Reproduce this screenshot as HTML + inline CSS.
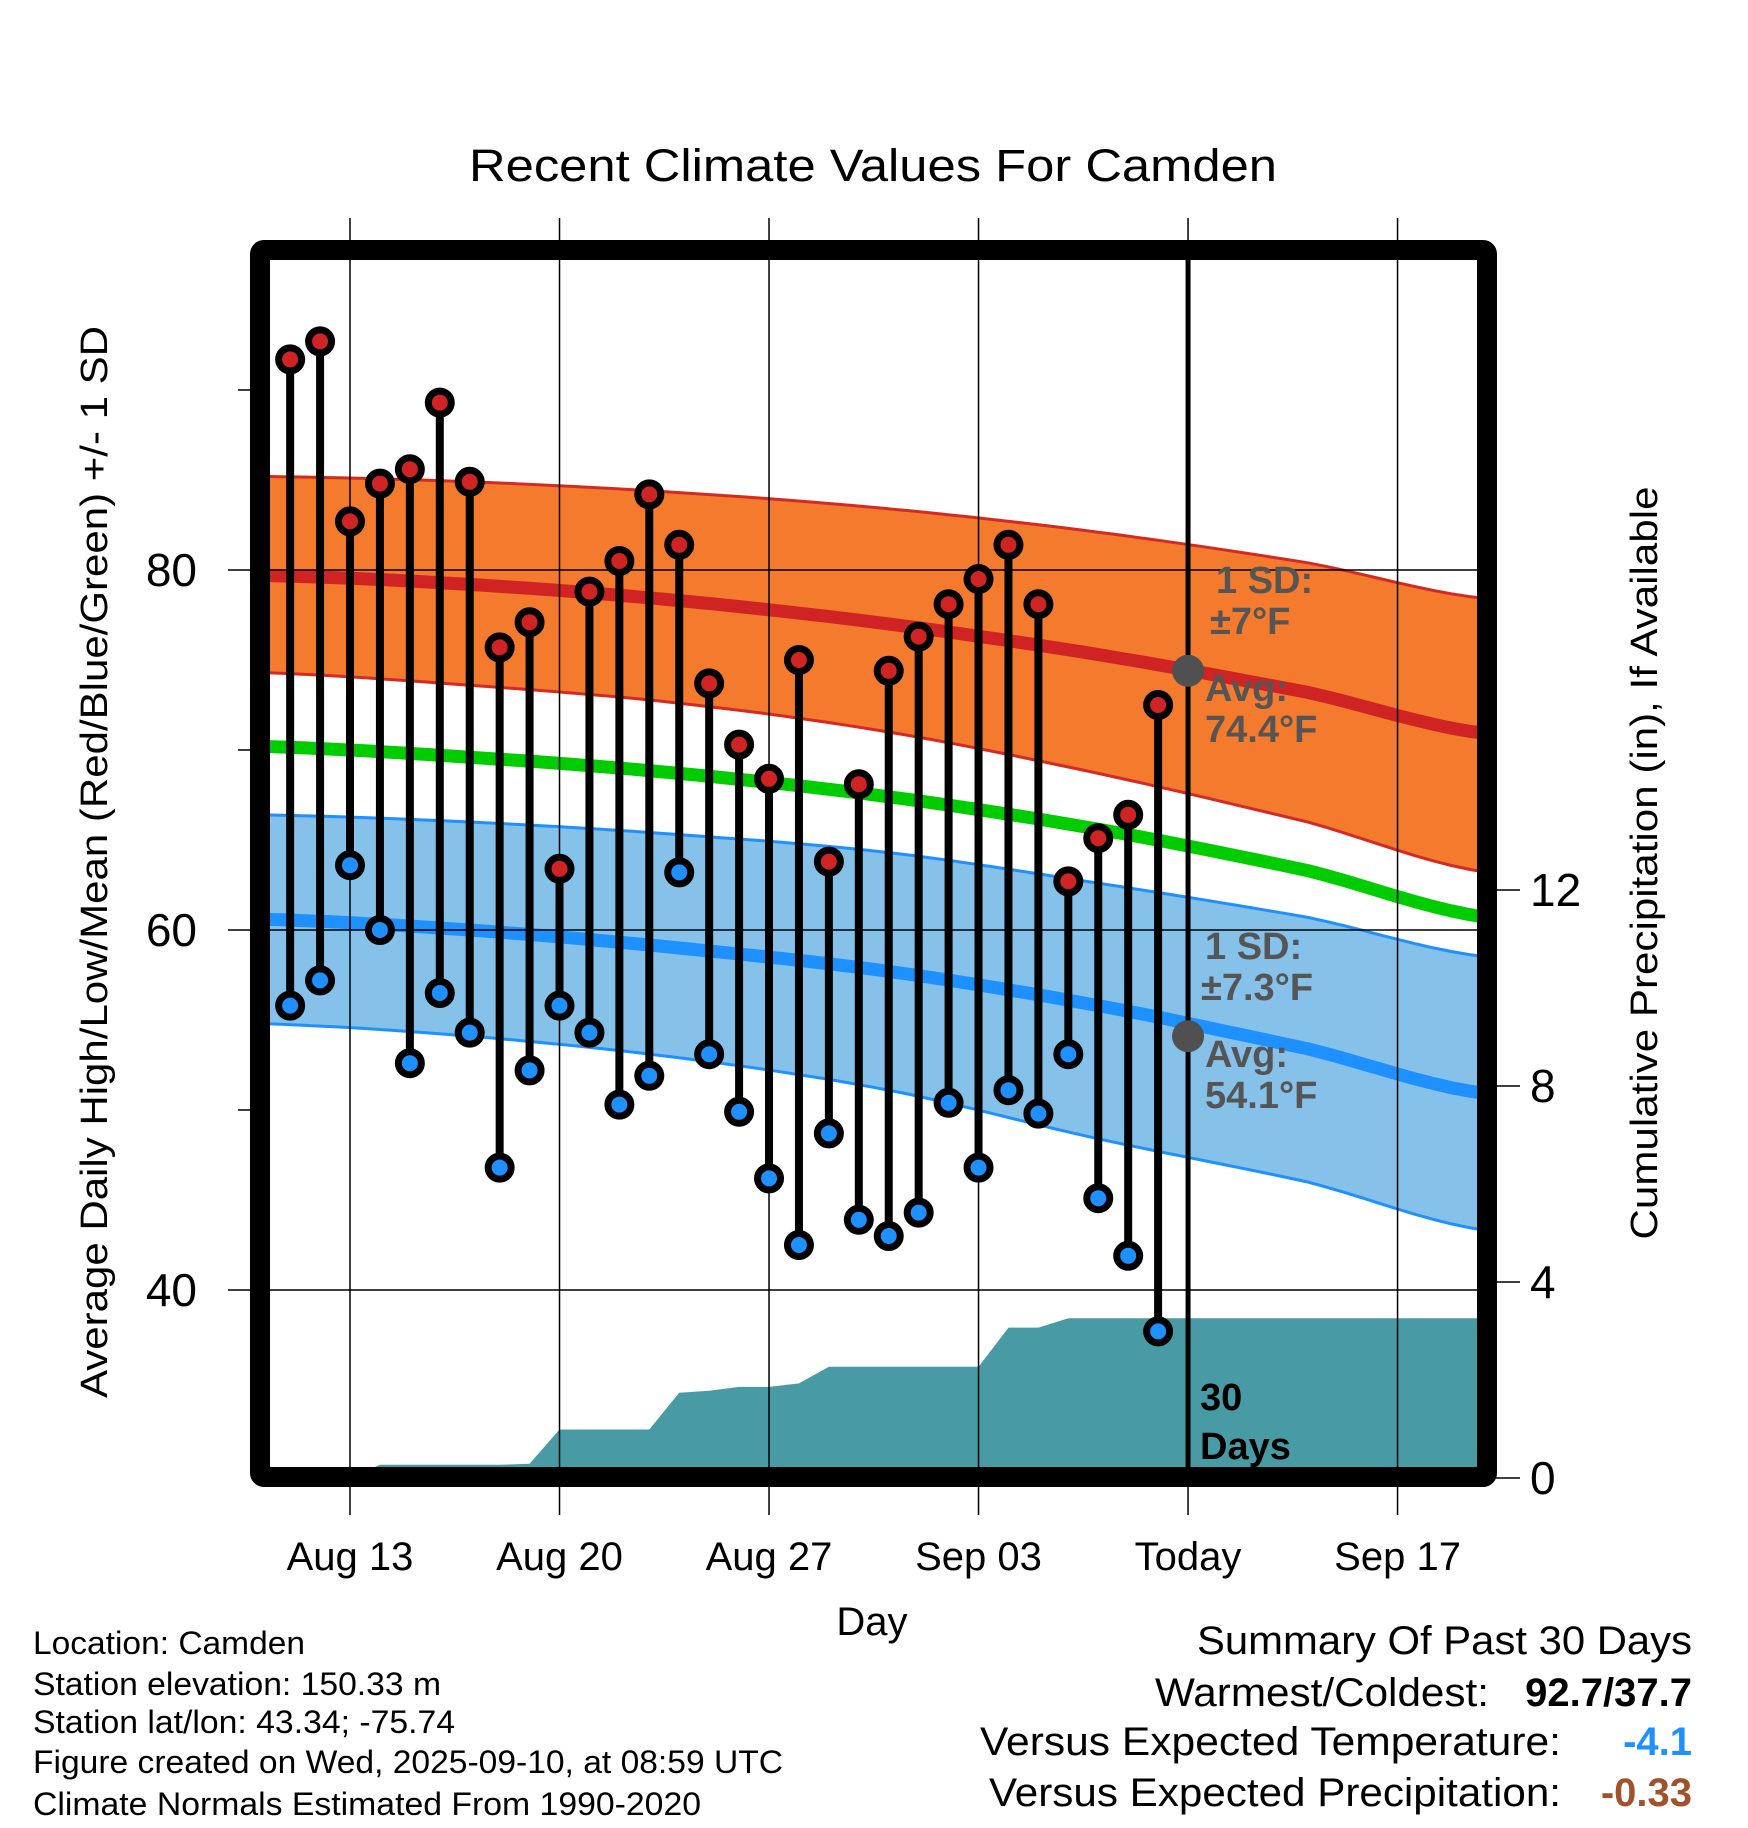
<!DOCTYPE html>
<html><head><meta charset="utf-8"><style>html,body{margin:0;padding:0;background:#fff}svg{display:block}text{font-family:"Liberation Sans",sans-serif}</style></head>
<body>
<svg id="chart" xmlns="http://www.w3.org/2000/svg" width="1748" height="1828" viewBox="0 0 1748 1828">
<defs><clipPath id="plotclip"><rect x="270" y="260" width="1207" height="1208"/></clipPath></defs>
<g id="layer-fill" clip-path="url(#plotclip)"></g>
<g id="layer-grid"></g>
<g id="layer-marks" clip-path="url(#plotclip)"></g>
<rect x="260" y="250" width="1227" height="1227" fill="none" stroke="#000" stroke-width="20" rx="4"/>
<g id="layer-text"></g>
<text x="873" y="181" font-size="45" text-anchor="middle" textLength="808" lengthAdjust="spacingAndGlyphs">Recent Climate Values For Camden</text>
<text x="872" y="1635" font-size="40" text-anchor="middle">Day</text>
<text transform="translate(107,862) rotate(-90)" font-size="38" text-anchor="middle" textLength="1072" lengthAdjust="spacingAndGlyphs">Average Daily High/Low/Mean (Red/Blue/Green) +/- 1 SD</text>
<text transform="translate(1657,863) rotate(-90)" font-size="38" text-anchor="middle" textLength="753" lengthAdjust="spacingAndGlyphs">Cumulative Precipitation (in), If Available</text>
<g font-weight="bold" font-size="38" fill="#555">
<text x="1216" y="593">1 SD:</text><text x="1210" y="634">±7°F</text>
<text x="1205" y="701">Avg:</text><text x="1205" y="742">74.4°F</text></g>
<g font-weight="bold" font-size="38" fill="#555">
<text x="1205" y="959">1 SD:</text><text x="1201" y="1000">±7.3°F</text>
<text x="1205" y="1067">Avg:</text><text x="1205" y="1108">54.1°F</text></g>
<g font-weight="bold" font-size="38" fill="#000">
<text x="1200" y="1410">30</text><text x="1200" y="1459">Days</text></g>
<g font-size="32" fill="#000">
<text x="33" y="1654" textLength="272" lengthAdjust="spacingAndGlyphs">Location: Camden</text>
<text x="33" y="1695" textLength="408" lengthAdjust="spacingAndGlyphs">Station elevation: 150.33 m</text>
<text x="33" y="1733" textLength="422" lengthAdjust="spacingAndGlyphs">Station lat/lon: 43.34; -75.74</text>
<text x="33" y="1773" textLength="750" lengthAdjust="spacingAndGlyphs">Figure created on Wed, 2025-09-10, at 08:59 UTC</text>
<text x="33" y="1815" textLength="668" lengthAdjust="spacingAndGlyphs">Climate Normals Estimated From 1990-2020</text></g>
<g font-size="40" fill="#000">
<text x="1692" y="1654" text-anchor="end" textLength="495" lengthAdjust="spacingAndGlyphs">Summary Of Past 30 Days</text>
<text x="1489" y="1706" text-anchor="end" textLength="334" lengthAdjust="spacingAndGlyphs">Warmest/Coldest:</text>
<text x="1692" y="1706" text-anchor="end" font-weight="bold">92.7/37.7</text>
<text x="1561" y="1755" text-anchor="end" textLength="581" lengthAdjust="spacingAndGlyphs">Versus Expected Temperature:</text>
<text x="1692" y="1755" text-anchor="end" font-weight="bold" fill="#1E90FF">-4.1</text>
<text x="1561" y="1806" text-anchor="end" textLength="572" lengthAdjust="spacingAndGlyphs">Versus Expected Precipitation:</text>
<text x="1692" y="1806" text-anchor="end" font-weight="bold" fill="#A0522D">-0.33</text></g>
</svg>
<script>
// day numbers counted from Aug 1 (Sep 1 = 32)
const obsDays = [11,12,13,14,15,16,17,18,19,20,21,22,23,24,25,26,27,28,29,30,31,32,33,34,35,36,37,38,39,40];
const highs = [91.7,92.7,82.7,84.8,85.6,89.3,84.9,75.7,77.1,63.4,78.8,80.5,84.2,81.4,73.7,70.3,68.4,75.0,63.8,68.1,74.4,76.3,78.1,79.5,81.4,78.1,62.7,65.1,66.4,72.5];
const lows = [55.8,57.2,63.6,60.0,52.6,56.5,54.3,46.8,52.2,55.8,54.3,50.3,51.9,63.2,53.1,49.9,46.2,42.5,48.7,43.9,43.0,44.3,50.4,46.8,51.1,49.8,53.1,45.1,41.9,37.7];
const precip = [0,0,0,0.27,0.27,0.27,0.27,0.27,0.29,0.99,0.99,0.99,0.99,1.74,1.78,1.86,1.86,1.93,2.27,2.27,2.27,2.27,2.27,2.27,3.07,3.07,3.26,3.26,3.26,3.26];
const normDays = [10,17,24,31,38,45,51];
const hiAvg = [79.7,79.2,78.3,77.0,75.3,73.2,70.9];
const hiUpper = [85.2,84.9,84.3,83.4,82.1,80.4,78.4];
const hiLower = [74.3,73.6,72.6,71.0,68.7,66.0,63.2];
const meanAvg = [70.2,69.6,68.7,67.4,65.6,63.3,60.7];
const loAvg = [60.6,60.0,59.0,57.7,55.8,53.4,50.9];
const loUpper = [66.4,66.0,65.3,64.3,62.6,60.7,58.5];
const loLower = [54.8,54.1,52.9,51.1,48.4,46.0,43.3];
const xTickDays = [13,20,27,34,41,48];
const xTickLabels = ["Aug 13","Aug 20","Aug 27","Sep 03","Today","Sep 17"];
const yTicks = [40,60,80];
const yMinor = [50,70,90];
const y2Ticks = [0,4,8,12];
const todayDay = 41;
const todayHi = 74.4, todayLo = 54.1;

const NS = "http://www.w3.org/2000/svg";
const xS = d => 350 + (d - 13) * 29.93;
const yS = t => 570 + (80 - t) * 18;
const y2S = p => 1478 - p * 49;
const X0 = 270, X1 = 1477;
function mk(tag, attrs, parent){const e=document.createElementNS(NS,tag);for(const k in attrs)e.setAttribute(k,attrs[k]);parent.appendChild(e);return e;}
const gFill=document.getElementById('layer-fill'), gGrid=document.getElementById('layer-grid'), gMarks=document.getElementById('layer-marks'), gText=document.getElementById('layer-text');

function smoothPts(vals){
  const out=[];
  for(let i=0;i<normDays.length-1;i++){
    const p0=vals[Math.max(i-1,0)],p1=vals[i],p2=vals[i+1],p3=vals[Math.min(i+2,vals.length-1)];
    for(let s=0;s<10;s++){
      const t=s/10,t2=t*t,t3=t2*t;
      const v=0.5*((2*p1)+(-p0+p2)*t+(2*p0-5*p1+4*p2-p3)*t2+(-p0+3*p1-3*p2+p3)*t3);
      const d=normDays[i]+(normDays[i+1]-normDays[i])*t;
      out.push(xS(d).toFixed(1)+','+yS(v).toFixed(1));
    }
  }
  const n=normDays.length-1;
  out.push(xS(normDays[n]).toFixed(1)+','+yS(vals[n]).toFixed(1));
  return out;
}
function band(up, lo, fill, name){
  const p = smoothPts(up).concat(smoothPts(lo).reverse());
  const e = mk('polygon',{points:p.join(' '),fill:fill},gFill);
  
  
}
function line(vals, color, w, name){
  const e = mk('polyline',{points:smoothPts(vals).join(' '),fill:'none',stroke:color,'stroke-width':w},gFill);
  
  
}
band(hiUpper, hiLower, '#F47A2E', 'high-sd-band');
line(hiUpper, '#D42A24', 3, 'high-upper-line');
line(hiLower, '#D42A24', 3, 'high-lower-line');
line(hiAvg, '#D02424', 13, 'high-avg-line');
band(loUpper, loLower, '#85C1E9', 'low-sd-band');
line(loUpper, '#1E90FF', 3, 'low-upper-line');
line(loLower, '#1E90FF', 3, 'low-lower-line');
line(loAvg, '#1E90FF', 13, 'low-avg-line');
line(meanAvg, '#00CC00', 13, 'mean-line');

// precipitation area
{
  const p = [X0+','+y2S(0), xS(obsDays[0])+','+y2S(0)];
  obsDays.forEach((d,i)=>p.push(xS(d).toFixed(1)+','+y2S(precip[i]).toFixed(1)));
  p.push(X1+','+y2S(precip[precip.length-1]).toFixed(1));
  p.push(X1+','+1480); p.push(X0+','+1480);
  const e = mk('polygon',{points:p.join(' '),fill:'#489BA5'},gFill);
  
  
}
// grid
yTicks.forEach(t=>{
  const e = mk('line',{x1:228,x2:X1,y1:yS(t),y2:yS(t),stroke:'#000','stroke-width':1.5},gGrid);
  
  
  const l = mk('text',{x:197,y:yS(t)+16,'font-size':46,'text-anchor':'end'},gText);
  l.textContent = t;
  
  
});
yMinor.forEach(t=>{
  const e = mk('line',{x1:238,x2:252,y1:yS(t),y2:yS(t),stroke:'#000','stroke-width':1.5},gGrid);
  
  
});
y2Ticks.forEach(p=>{
  const e = mk('line',{x1:1494,x2:1520,y1:y2S(p),y2:y2S(p),stroke:'#000','stroke-width':1.5},gGrid);
  
  
  const l = mk('text',{x:1530,y:y2S(p)+16,'font-size':46},gText);
  l.textContent = p;
  
  
});
xTickDays.forEach((d,i)=>{
  const e = mk('line',{x1:xS(d),x2:xS(d),y1:218,y2:1515,stroke:'#000','stroke-width':1.5},gGrid);
  
  
  const l = mk('text',{x:xS(d),y:1570,'font-size':40,'text-anchor':'middle'},gText);
  l.textContent = xTickLabels[i];
  
  
});
// stems and markers
obsDays.forEach((d,i)=>{
  const x = xS(d);
  const s = mk('line',{x1:x,x2:x,y1:yS(highs[i]),y2:yS(lows[i]),stroke:'#000','stroke-width':8},gMarks);
  
  
});
obsDays.forEach((d,i)=>{
  const x = xS(d);
  const h = mk('circle',{cx:x,cy:yS(highs[i]),r:11.5,fill:'#D02424',stroke:'#000','stroke-width':7},gMarks);
  
  
  const l = mk('circle',{cx:x,cy:yS(lows[i]),r:11.5,fill:'#1E90FF',stroke:'#000','stroke-width':7},gMarks);
  
  
});
{
  const t = mk('line',{x1:xS(todayDay),x2:xS(todayDay),y1:260,y2:1470,stroke:'#000','stroke-width':5},gMarks);
  
  
  const a = mk('circle',{cx:xS(todayDay),cy:yS(todayHi),r:16,fill:'#505050'},gMarks);
  
  
  const b = mk('circle',{cx:xS(todayDay),cy:yS(todayLo),r:16,fill:'#505050'},gMarks);
  
  
}
</script>
</body></html>
